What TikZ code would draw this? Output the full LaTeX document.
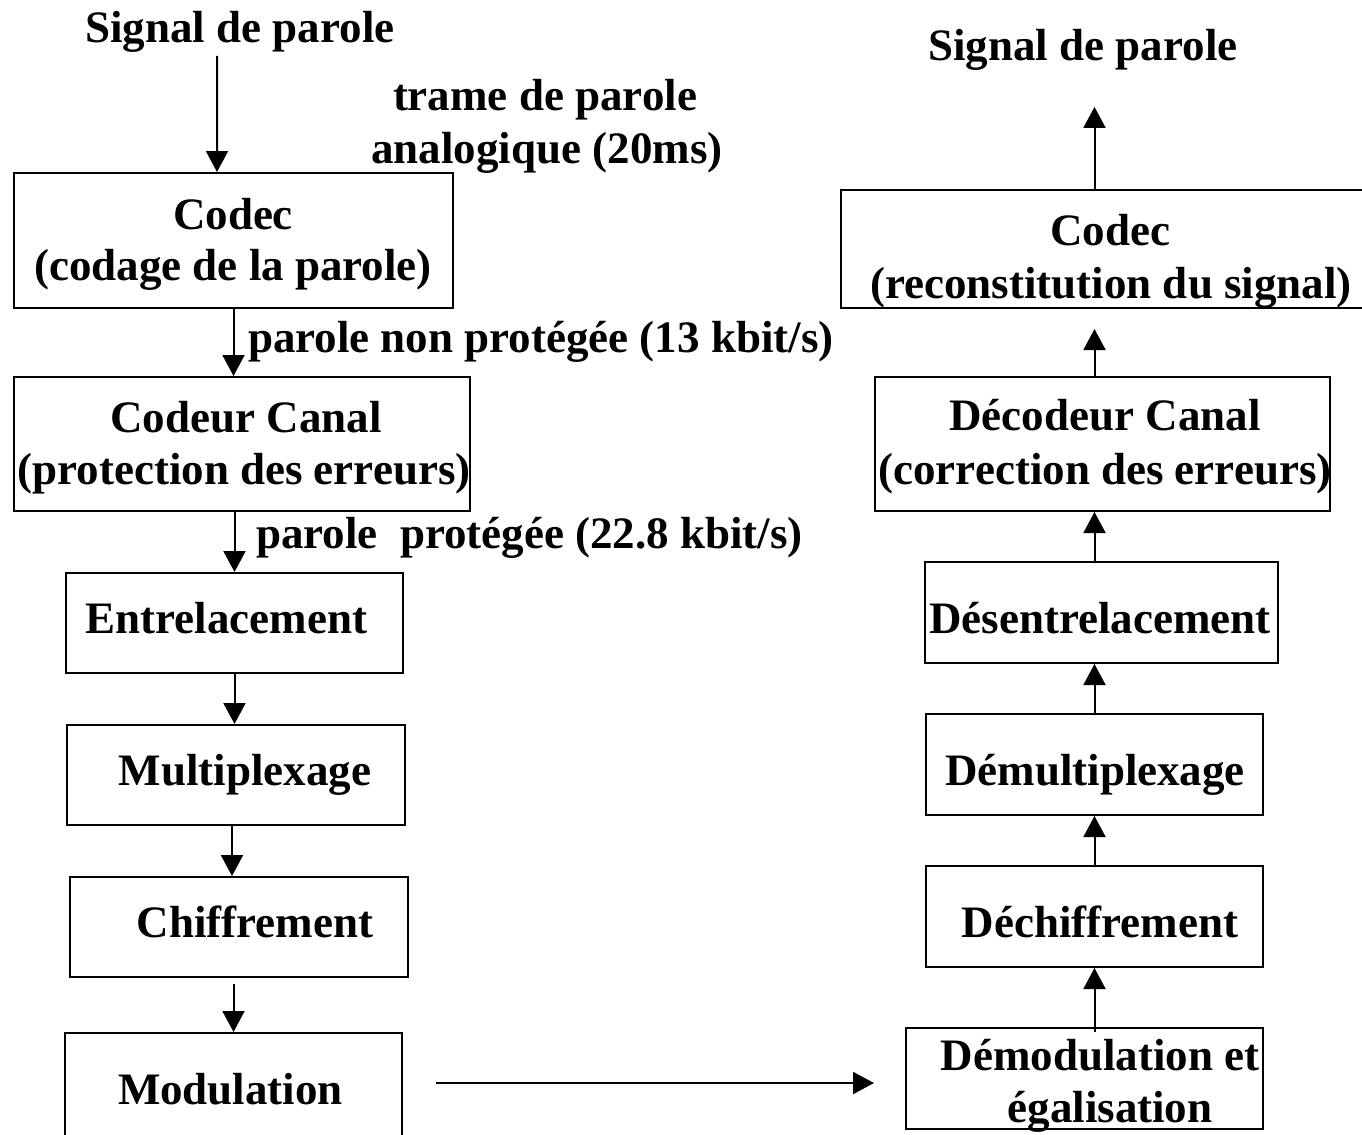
\documentclass[tikz,border=0pt]{standalone}
\usepackage{fontspec}
\setmainfont{Liberation Serif}
\usetikzlibrary{arrows.meta}

\begin{document}
\begin{tikzpicture}[x=1cm,y=-1cm,line width=0.2mm,
    bloc/.style={draw,line width=0.2mm,inner sep=0pt},
    texte/.style={font=\fontsize{12.8}{15}\selectfont\bfseries,inner sep=0pt,anchor=base},
    fleche/.style={-{Triangle[width=2.2mm,length=2.1mm]},line width=0.2mm}]
    \useasboundingbox (0,0) rectangle (13.62,11.34);
    \clip (0,0) rectangle (13.62,11.34);

    % chaine d'emission
    \node[bloc,minimum width=4.39cm,minimum height=1.35cm] (codecA) at (2.335,2.405) {};
    \node[bloc,minimum width=4.56cm,minimum height=1.34cm] (codeurC) at (2.42,4.44) {};
    \node[bloc,minimum width=3.37cm,minimum height=1.00cm] (entrel) at (2.345,6.23) {};
    \node[bloc,minimum width=3.38cm,minimum height=1.00cm] (multip) at (2.36,7.75) {};
    \node[bloc,minimum width=3.38cm,minimum height=1.00cm] (chiffr) at (2.39,9.27) {};
    \node[bloc,minimum width=3.37cm,minimum height=1.20cm] (modul) at (2.335,10.93) {};

    % chaine de reception
    \node[bloc,minimum width=5.40cm,minimum height=1.18cm] (codecB) at (11.11,2.49) {};
    \node[bloc,minimum width=4.55cm,minimum height=1.34cm] (decod) at (11.025,4.44) {};
    \node[bloc,minimum width=3.53cm,minimum height=1.01cm] (desent) at (11.015,6.125) {};
    \node[bloc,minimum width=3.37cm,minimum height=1.01cm] (demult) at (10.94,7.645) {};
    \node[bloc,minimum width=3.37cm,minimum height=1.01cm] (dechif) at (10.94,9.165) {};
    \node[bloc,minimum width=3.57cm,minimum height=1.01cm] (demod) at (10.845,10.785) {};

    % textes
    \node[texte] (sigA) at (2.40,0.42) {Signal de parole};
    \node[texte] (trame1) at (5.45,1.10) {trame de parole};
    \node[texte] (trame2) at (5.47,1.63) {analogique (20ms)};
    \node[texte] (codecA1) at (2.33,2.29) {Codec};
    \node[texte] (codecA2) at (2.33,2.80) {(codage de la parole)};
    \node[texte,anchor=base west] (debit1) at (2.47,3.52) {parole non protégée (13 kbit/s)};
    \node[texte] (codeurC1) at (2.46,4.32) {Codeur Canal};
    \node[texte] (codeurC2) at (2.44,4.84) {(protection des erreurs)};
    \node[texte,anchor=base west] (debit2) at (2.55,5.48) {parole\ \ protégée (22.8 kbit/s)};
    \node[texte] (entrelT) at (2.265,6.33) {Entrelacement};
    \node[texte] (multipT) at (2.45,7.85) {Multiplexage};
    \node[texte] (chiffrT) at (2.55,9.37) {Chiffrement};
    \node[texte] (modulT) at (2.305,11.04) {Modulation};

    \node[texte] (sigB) at (10.83,0.60) {Signal de parole};
    \node[texte] (codecB1) at (11.10,2.45) {Codec};
    \node[texte] (codecB2) at (11.11,2.98) {(reconstitution du signal)};
    \node[texte] (decod1) at (11.05,4.30) {Décodeur Canal};
    \node[texte] (decod2) at (11.05,4.84) {(correction des erreurs)};
    \node[texte] (desentT) at (11.00,6.33) {Désentrelacement};
    \node[texte] (demultT) at (10.95,7.85) {Démultiplexage};
    \node[texte] (dechifT) at (11.00,9.37) {Déchiffrement};
    \node[texte] (demod1) at (11.00,10.70) {Démodulation et};
    \node[texte] (demod2) at (11.10,11.22) {égalisation};

    % fleches emission
    \draw[fleche,shorten <=0.3mm] ([xshift=-2.3mm]sigA.south) -- ([xshift=-1.65mm]codecA.north);
    \draw[fleche] (codecA.south) -- (codecA.south |- codeurC.north);
    \draw[fleche] (entrel.north |- codeurC.south) -- (entrel.north);
    \draw[fleche] (entrel.south) -- (entrel.south |- multip.north);
    \draw[fleche] ([xshift=-0.4mm]multip.south) -- ([xshift=-0.4mm]multip.south |- chiffr.north);
    \draw[fleche,shorten <=0.6mm] (modul.north |- chiffr.south) -- (modul.north);

    % liaison radio
    \coordinate (liaison) at (0,10.83);
    \draw[fleche,shorten <=3.3mm,shorten >=3.1mm] (modul.east |- liaison) -- (demod.west |- liaison);

    % fleches reception
    \coordinate (axeB) at (10.945,0);
    \draw[fleche,shorten <=-0.5mm] (axeB |- demod.north) -- (axeB |- dechif.south);
    \draw[fleche] (axeB |- dechif.north) -- (axeB |- demult.south);
    \draw[fleche] (axeB |- demult.north) -- (axeB |- desent.south);
    \draw[fleche] (axeB |- desent.north) -- (axeB |- decod.south);
    \draw[fleche,shorten >=2mm] (axeB |- decod.north) -- (axeB |- codecB.south);
    \draw[fleche,shorten >=3.6mm] (axeB |- codecB.north) -- (axeB |- sigB.south);
\end{tikzpicture}
\end{document}
